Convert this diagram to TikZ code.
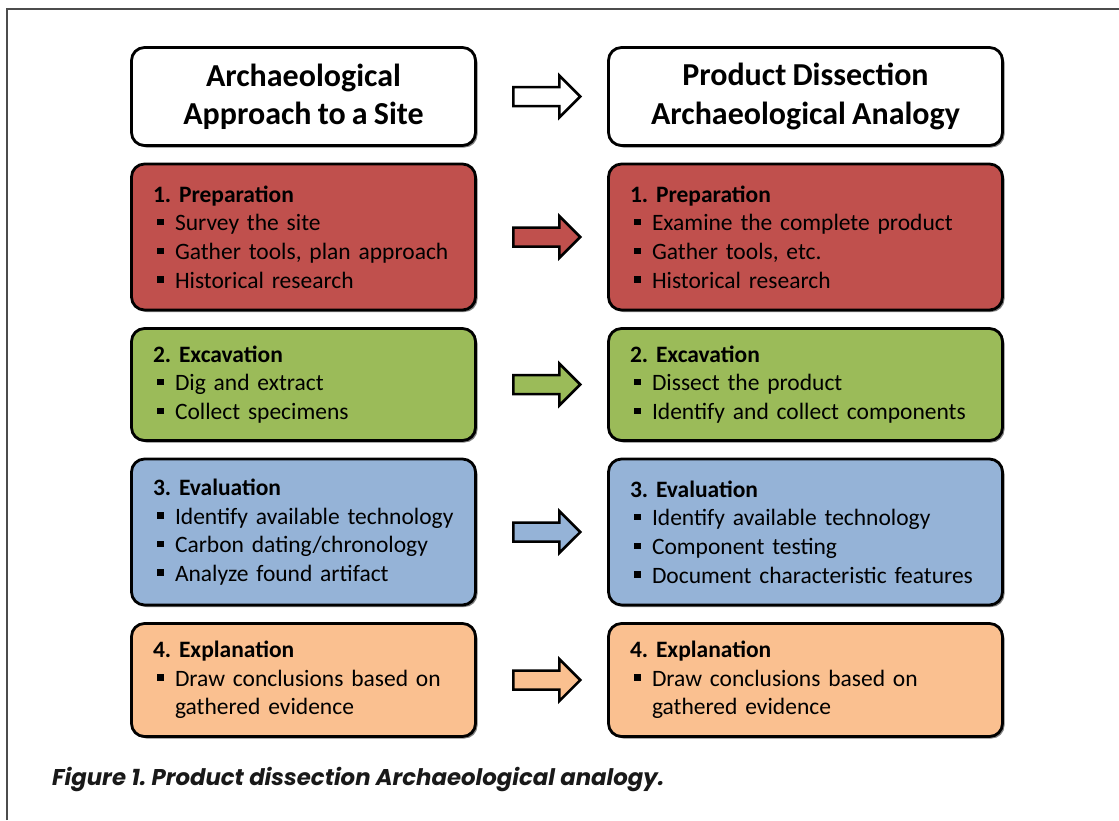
\documentclass[tikz,border=0pt]{standalone}
\usepackage{fontspec}
\setmainfont{Carlito}[WordSpace=0.85]
\newfontfamily\capfont{Poppins}
\usepackage{tikz}
\usetikzlibrary{shapes, arrows, positioning, calc, shadows}

\definecolor{prepred}{HTML}{C0504D}
\definecolor{excgreen}{HTML}{9BBB59}
\definecolor{evalblue}{HTML}{95B3D7}
\definecolor{explorange}{HTML}{FAC090}
\newcommand{\sqb}{\hspace*{4pt}\rule[5.5pt]{6.5pt}{6.5pt}\hspace{11.5pt}}
\frenchspacing
\hyphenpenalty=10000
\exhyphenpenalty=10000

\begin{document}
\begin{tikzpicture}[
  x=1pt, y=-1pt,
  node distance=18.5pt,
  stagebox/.style={rectangle, rounded corners=13pt, draw=black, line width=2.8pt, outer sep=0pt, inner xsep=21.5pt, inner ysep=0pt, align=left, font=\fontsize{23.5}{28.7}\selectfont, drop shadow={shadow xshift=2pt, shadow yshift=-2pt, fill=black, opacity=0.5}},
  sitebox/.style={stagebox, text width=301pt},
  prodbox/.style={stagebox, text width=351pt},
  headbox/.style={stagebox, fill=white, align=center, minimum height=98pt, font=\fontsize{32}{38.3}\selectfont\bfseries},
  blockarrow/.style={single arrow, draw=black, line width=2.5pt, inner sep=0pt, outer sep=0pt, text width=0pt, text height=16.5pt, text depth=0pt, single arrow head extend=11.5pt, minimum height=67pt},
  frame/.style={draw=black!70, line width=1.3pt}
]
\useasboundingbox (0,0) rectangle (1119,820);

% Frame
\coordinate (frame_bl) at (7,820);
\coordinate (frame_tr) at (1119,9);
\draw[frame] (frame_bl) |- (frame_tr);

% Headers
\node[headbox, minimum width=344pt, anchor=north west] (head_site) at (131.5,47.5) {Archaeological\\Approach to a Site};
\node[headbox, minimum width=394pt, right=133pt of head_site] (head_prod) {Product Dissection\\Archaeological Analogy};

% Site column
\node[sitebox, fill=prepred, minimum height=146pt, below=of head_site] (prep_site) {\textbf{1. Preparation}\\\sqb Survey the site\\\sqb Gather tools, plan approach\\\sqb Historical research};
\node[sitebox, fill=excgreen, minimum height=112pt, below=of prep_site] (exc_site) {\textbf{2. Excavation}\\\sqb Dig and extract\\\sqb Collect specimens};
\node[sitebox, fill=evalblue, minimum height=146pt, below=of exc_site] (eval_site) {\textbf{3. Evaluation}\\\sqb Identify available technology\\\sqb Carbon dating/chronology\\\sqb Analyze found artifact};
\node[sitebox, fill=explorange, minimum height=113pt, below=of eval_site] (expl_site) {\textbf{4. Explanation}\\\sqb Draw conclusions based on\\\hspace*{22pt}gathered evidence};

% Product column
\node[prodbox, fill=prepred, minimum height=146pt, right=133pt of prep_site] (prep_prod) {\textbf{1. Preparation}\\\sqb Examine the complete product\\\sqb Gather tools, etc.\\\sqb Historical research};
\node[prodbox, fill=excgreen, minimum height=112pt, right=133pt of exc_site] (exc_prod) {\textbf{2. Excavation}\\\sqb Dissect the product\\\sqb Identify and collect components};
\node[prodbox, fill=evalblue, minimum height=146pt, right=133pt of eval_site] (eval_prod) {\textbf{3. Evaluation}\\\sqb Identify available technology\\\sqb Component testing\\\sqb Document characteristic features};
\node[prodbox, fill=explorange, minimum height=113pt, right=133pt of expl_site] (expl_prod) {\textbf{4. Explanation}\\\sqb Draw conclusions based on\\\hspace*{22pt}gathered evidence};

% Block arrows
\node[blockarrow, fill=white] (arr_head) at ($(head_site.east)!0.5!(head_prod.west)$) {};
\node[blockarrow, fill=prepred] (arr_prep) at ($(prep_site.east)!0.5!(prep_prod.west)$) {};
\node[blockarrow, fill=excgreen] (arr_exc) at ($(exc_site.east)!0.5!(exc_prod.west)$) {};
\node[blockarrow, fill=evalblue] (arr_eval) at ($(eval_site.east)!0.5!(eval_prod.west)$) {};
\node[blockarrow, fill=explorange] (arr_expl) at ($(expl_site.east)!0.5!(expl_prod.west)$) {};

% Caption
\node[anchor=base west, inner sep=0pt, text=black!90, font=\capfont\bfseries\itshape\fontsize{22.8}{27}\selectfont] (caption) at (52,785) {Figure 1. Product dissection Archaeological analogy.};

\end{tikzpicture}
\end{document}
